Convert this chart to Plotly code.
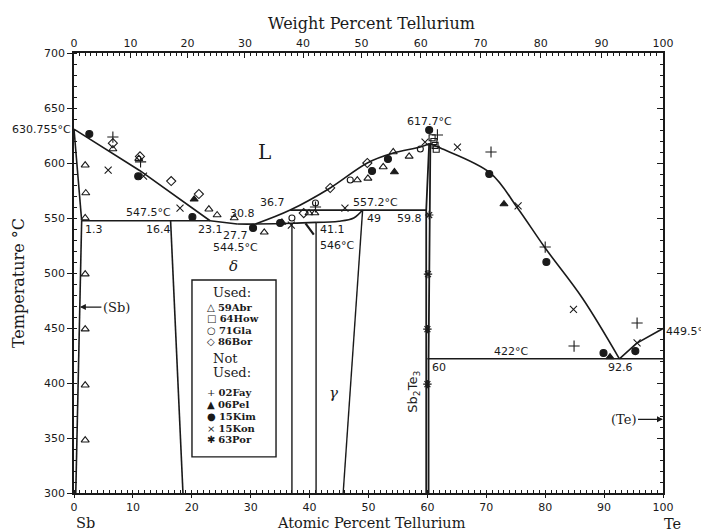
import plotly.graph_objects as go

# ---- invariant points of the Sb-Te system (at.% Te, deg C) ----
T_SB_MELT = 630.755
T_EUT_SB = 547.5
T_EUT_D = 544.5
T_PERI = 557.2
T_546 = 546.0
T_SB2TE3 = 617.7
T_EUT_TE = 422.0
T_TE_MELT = 449.5

X_SB_SOL = 1.3
X_DELTA = 16.4
X_L_EUT = 23.1
X_277 = 27.7
X_308 = 30.8
X_L_PERI = 36.7
X_411 = 41.1
X_G49 = 49.0
X_598 = 59.8
X_60 = 60.0
X_L_TE = 92.6

# ---- phase boundaries ----
liq_sb_x = [0, 11.2, X_L_EUT]
liq_sb_t = [T_SB_MELT, 593, T_EUT_SB]
sol_sb_x = [0, X_SB_SOL]
sol_sb_t = [T_SB_MELT, T_EUT_SB]
solv_sb_x = [X_SB_SOL, 1.0, 0.3]
solv_sb_t = [T_EUT_SB, 470, 300]
eut_sb_x = [X_SB_SOL, X_L_EUT, X_277]
eut_sb_t = [T_EUT_SB, T_EUT_SB, T_EUT_D]
eut_d_x = [X_277, X_308, 37.0, X_411]
eut_d_t = [T_EUT_D, T_EUT_D, 545.2, T_546]
delta_l_x = [X_DELTA, 18.5]
delta_l_t = [T_EUT_SB, 300]
v37_x = [37.0, 37.0]
v37_t = [545.2, 300]
v41_x = [X_411, X_411]
v41_t = [T_546, 300]
gam_top_x = [X_411, 45.0, 47.5, X_G49]
gam_top_t = [T_546, 547, 550, T_PERI]
gam_r_x = [X_G49, 45.7]
gam_r_t = [T_PERI, 300]
peri_x = [X_L_PERI, X_598]
peri_t = [T_PERI, T_PERI]
liq_mid_x = [X_308, X_L_PERI, 43.5, 49.8, 54.2, 58.8, 60.4]
liq_mid_t = [T_EUT_D, T_PERI, 577.3, 600, 609, 614.5, T_SB2TE3]
liq_te_x = [60.4, 62.2, 70.7, 75.3, 80.0, 86.3, X_L_TE]
liq_te_t = [T_SB2TE3, 613.6, 590.9, 559.1, 522.7, 477.3, T_EUT_TE]
liq_end_x = [X_L_TE, 95.5, 100]
liq_end_t = [T_EUT_TE, 436, T_TE_MELT]
eut_te_x = [X_60, 100]
eut_te_t = [T_EUT_TE, T_EUT_TE]
s23_l_x = [60.3, X_598, X_598]
s23_l_t = [T_SB2TE3, T_PERI, 300]
s23_r_x = [60.5, X_60 + 0.2, X_60 + 0.2]
s23_r_t = [T_SB2TE3, T_EUT_TE, 300]

# ---- experimental data ----
abr59_x = [1.9, 2.0, 1.9, 1.9, 1.9, 1.9, 1.9, 6.6, 11.0, 22.9, 24.3, 27.2, 32.3, 35.3,
           40.9, 39.9, 48.1, 49.9, 52.5, 54.2, 56.9]
abr59_t = [598, 572.7, 550, 499, 449, 398, 348, 612.7, 604, 558, 552.7, 550, 537, 546,
           554.5, 554.5, 584.5, 586, 596.4, 610, 606]
how64_x = [60.8, 61.1, 61.3, 61.5]
how64_t = [623, 619.5, 616, 612.5]
gla71_x = [37.0, 41.0, 46.9, 58.8]
gla71_t = [550, 563.6, 584.5, 612.7]
bor86_x = [6.6, 11.2, 16.5, 21.2, 39.0, 43.5, 49.8]
bor86_t = [618, 606, 583.6, 571.8, 554.5, 577.3, 600]
fay02_x = [6.6, 11.3, 41.0, 61.7, 70.8, 80.0, 84.9, 95.6]
fay02_t = [623.6, 601, 560, 625.5, 610, 523.6, 433.6, 454.5]
pel06_x = [20.4, 54.4, 73.0, 91.0]
pel06_t = [567, 591.8, 562.7, 423.6]
kim15_x = [2.6, 10.9, 20.1, 30.4, 35.0, 50.6, 53.3, 60.3, 70.5, 80.2, 89.9, 95.3]
kim15_t = [626.4, 588, 550.9, 541, 545.5, 592.7, 603.6, 630, 590, 510, 427.3, 429]
kon15_x = [5.8, 11.8, 18.0, 36.9, 46.0, 59.6, 65.1, 75.4, 84.8, 95.6]
kon15_t = [593.6, 588, 559, 543.6, 559, 619, 614.5, 561, 467, 436.4]
por63_x = [60.3, 60.1, 60.0, 60.0]
por63_t = [552.7, 499, 449, 399]

# ---- axis ticks ----
t_ticks = [300, 350, 400, 450, 500, 550, 600, 650, 700]
at_ticks = [0, 10, 20, 30, 40, 50, 60, 70, 80, 90, 100]
wt_ticks = [0, 10, 20, 30, 40, 50, 60, 70, 80, 90, 100]
M_SB, M_TE = 121.76, 127.60


def wt_to_at(w):
    if w >= 100:
        return 100.0
    nt = w / M_TE
    ns = (100 - w) / M_SB
    return 100 * nt / (nt + ns)


INK = "#1a1a1a"
SERIF = "DejaVu Serif"
SANS = "DejaVu Sans"

fig = go.Figure()

boundaries = [
    (liq_sb_x, liq_sb_t, 1.6), (sol_sb_x, sol_sb_t, 1.6), (solv_sb_x, solv_sb_t, 1.6),
    (eut_sb_x, eut_sb_t, 1.6), (eut_d_x, eut_d_t, 1.6), (delta_l_x, delta_l_t, 1.6),
    (v37_x, v37_t, 1.4), (v41_x, v41_t, 1.4), (gam_top_x, gam_top_t, 1.6),
    (gam_r_x, gam_r_t, 1.4), (peri_x, peri_t, 1.6), (liq_mid_x, liq_mid_t, 1.6),
    (liq_te_x, liq_te_t, 1.6), (liq_end_x, liq_end_t, 1.6), (eut_te_x, eut_te_t, 1.6),
    (s23_l_x, s23_l_t, 1.8), (s23_r_x, s23_r_t, 1.8),
]
for bx, bt, w in boundaries:
    fig.add_trace(go.Scatter(x=bx, y=bt, mode="lines", line=dict(color=INK, width=w),
                             line_shape="spline" if len(bx) > 3 else "linear",
                             hoverinfo="skip", showlegend=False))

datasets = [
    ("59Abr", abr59_x, abr59_t, "triangle-up-open", 7),
    ("64How", how64_x, how64_t, "square-open", 6),
    ("71Gla", gla71_x, gla71_t, "circle-open", 6),
    ("86Bor", bor86_x, bor86_t, "diamond-open", 7),
    ("02Fay", fay02_x, fay02_t, "cross-thin-open", 8),
    ("06Pel", pel06_x, pel06_t, "triangle-up", 7),
    ("15Kim", kim15_x, kim15_t, "circle", 7),
    ("15Kon", kon15_x, kon15_t, "x-thin-open", 7),
    ("63Por", por63_x, por63_t, "asterisk-open", 7),
]
for name, dx, dt, sym, sz in datasets:
    fig.add_trace(go.Scatter(x=dx, y=dt, mode="markers", name=name,
                             marker=dict(symbol=sym, size=sz, color=INK,
                                         line=dict(color=INK, width=1.1)),
                             showlegend=False))

# helper trace so the top and right axes are drawn
fig.add_trace(go.Scatter(x=[None], y=[None], xaxis="x2", yaxis="y2", showlegend=False))

lbl = dict(family=SANS, size=11, color=INK)
ann = []


def add(text, x, y, xa="center", ya="middle", xs=0, ys=0, font=None, **kw):
    ann.append(dict(text=text, x=x, y=y, xref="x", yref="y", showarrow=False,
                    xanchor=xa, yanchor=ya, xshift=xs, yshift=ys, font=font or lbl, **kw))


add(f"{T_SB_MELT}°C", 0, T_SB_MELT, xa="right", xs=-1)
add(f"{T_SB2TE3}°C", 60.3, T_SB2TE3, ya="bottom", ys=14)
add(f"{T_EUT_SB}°C", 12.6, T_EUT_SB, ya="bottom", ys=0)
add(f"{X_SB_SOL}", X_SB_SOL, T_EUT_SB, xa="left", ya="top", xs=1)
add(f"{X_DELTA}", X_DELTA, T_EUT_SB, xa="right", ya="top", xs=2)
add(f"{X_L_EUT}", X_L_EUT, T_EUT_SB, ya="top", xs=0)
add(f"{X_277}", X_277, T_EUT_D, ya="top", xs=-2, ys=-3)
add(f"{T_EUT_D}°C", X_277, T_EUT_D, ya="top", xs=-2, ys=-15)
add(f"{X_308}", X_308, T_EUT_D, xa="right", ya="bottom", xs=2, ys=2)
add(f"{X_L_PERI}", X_L_PERI, T_PERI, xa="right", ya="bottom", xs=-3, ys=-1)
add(f"{T_PERI}°C", 51.2, T_PERI, ya="bottom", ys=-1)
add(f"{X_G49:g}", X_G49, T_PERI, xa="left", ya="top", xs=2, ys=0)
add(f"{X_598}", X_598, T_PERI, xa="right", ya="top", xs=-2, ys=0)
add(f"{X_411}", X_411, T_546, xa="left", ya="top", xs=2, ys=1)
add(f"{T_546:g}°C", 44.7, T_546, ya="top", ys=-15)
add(f"{T_EUT_TE:g}°C", 74.2, T_EUT_TE, ya="bottom", ys=-1)
add(f"{X_60:g}", X_60, T_EUT_TE, xa="left", ya="top", xs=3, ys=0)
add(f"{X_L_TE}", X_L_TE, T_EUT_TE, ya="top", xs=1, ys=0)
add(f"{T_TE_MELT}°C", 100, T_TE_MELT, xa="left", xs=1, ys=-3)

add("L", 32.4, 610, font=dict(family=SERIF, size=20, color=INK))
add("<i>δ</i>", 27.0, 506, font=dict(family=SERIF, size=15, color=INK))
add("<i>γ</i>", 44.0, 391, font=dict(family=SERIF, size=15, color=INK))
add("Sb<sub>2</sub>Te<sub>3</sub>", 57.7, 392, textangle=-90,
    font=dict(family=SANS, size=13, color=INK))

# phase arrows
ann.append(dict(text="(Sb)", x=1.0, y=469, ax=7.2, ay=469, xref="x", yref="y",
                axref="x", ayref="y", showarrow=True, arrowhead=2, arrowsize=1,
                arrowwidth=1.2, arrowcolor=INK, font=dict(family=SERIF, size=13, color=INK),
                standoff=0))
ann.append(dict(text="(Te)", x=100, y=367, ax=93.3, ay=367, xref="x", yref="y",
                axref="x", ayref="y", showarrow=True, arrowhead=2, arrowsize=1,
                arrowwidth=1.2, arrowcolor=INK, font=dict(family=SERIF, size=13, color=INK),
                standoff=0))
ann.append(dict(text="", x=39.3, y=545.2, ax=40.9, ay=533.5, xref="x", yref="y",
                axref="x", ayref="y", showarrow=True, arrowhead=0, arrowwidth=2.2,
                arrowcolor=INK))

# axis titles
ttl = dict(family=SERIF, size=16, color=INK)
ttl_low = dict(family=SERIF, size=14.5, color=INK)
ann.append(dict(text="Weight Percent Tellurium", x=0.5, y=1.0, xref="paper", yref="paper",
                xanchor="center", yanchor="middle", yshift=30, xshift=3, showarrow=False,
                font=ttl))
ann.append(dict(text="Atomic Percent Tellurium", x=0.5, y=0, xref="paper", yref="paper",
                xanchor="center", yanchor="middle", yshift=-30, xshift=3, showarrow=False,
                font=ttl_low))
ann.append(dict(text="Temperature °C", x=0, y=0.477, xref="paper", yref="paper",
                xanchor="center", yanchor="middle", xshift=-56, textangle=-90,
                showarrow=False, font=ttl))
ann.append(dict(text="Sb", x=0, y=0, xref="paper", yref="paper", xanchor="center",
                yanchor="middle", xshift=11, yshift=-30, showarrow=False, font=ttl_low))
ann.append(dict(text="Te", x=1, y=0, xref="paper", yref="paper", xanchor="center",
                yanchor="middle", xshift=9, yshift=-31, showarrow=False, font=ttl_low))

# key box
KX0, KX1, KY0, KY1 = 0.2003, 0.343, 0.082, 0.484
shapes = [dict(type="rect", xref="paper", yref="paper", x0=KX0, x1=KX1, y0=KY0, y1=KY1,
               line=dict(color=INK, width=1.4), fillcolor="white", layer="above")]

key_font = dict(family=SERIF, size=10, color=INK)
head_font = dict(family=SERIF, size=13, color=INK)
key_rows = [
    ("Used:", 292, head_font, 0.232),
    ("△ <b>59Abr</b>", 307, key_font, 0.222),
    ("□ <b>64How</b>", 318.5, key_font, 0.222),
    ("○ <b>71Gla</b>", 330, key_font, 0.222),
    ("◇ <b>86Bor</b>", 341.5, key_font, 0.222),
    ("Not", 358, head_font, 0.232),
    ("Used:", 372, head_font, 0.232),
    ("+ <b>02Fay</b>", 392, key_font, 0.222),
    ("▲ <b>06Pel</b>", 404, key_font, 0.222),
    ("● <b>15Kim</b>", 416, key_font, 0.222),
    ("× <b>15Kon</b>", 428, key_font, 0.222),
    ("✱ <b>63Por</b>", 439.5, key_font, 0.222),
]
for text, py, f, px in key_rows:
    ann.append(dict(text=text, x=px, y=(493 - py) / 440, xref="paper", yref="paper",
                    xanchor="left", yanchor="middle", showarrow=False, font=f))

tickfont = dict(family=SANS, size=11, color=INK)
wt_pos = [wt_to_at(w) for w in wt_ticks]
wt_minor = [wt_to_at(w) for w in range(0, 101) if w % 10 != 0]

fig.update_layout(
    width=701, height=532,
    margin=dict(l=74, r=38, t=53, b=39),
    paper_bgcolor="white", plot_bgcolor="white",
    showlegend=False,
    annotations=ann, shapes=shapes,
    xaxis=dict(range=[0, 100], tickvals=at_ticks, ticks="outside", ticklen=3,
               tickwidth=1.2, tickcolor=INK, showline=True, linecolor=INK, linewidth=1.6,
               showgrid=False, zeroline=False, tickfont=tickfont,
               minor=dict(dtick=1, ticks="inside", ticklen=3, tickcolor=INK, tickwidth=1)),
    xaxis2=dict(range=[0, 100], overlaying="x", side="top", tickvals=wt_pos,
                ticktext=[str(w) for w in wt_ticks], ticks="inside", ticklen=5,
                tickwidth=1.2, tickcolor=INK, showline=True, linecolor=INK,
                linewidth=1.6, showgrid=False, zeroline=False, tickfont=tickfont,
                minor=dict(tickvals=wt_minor, ticks="inside", ticklen=3,
                           tickcolor=INK, tickwidth=1)),
    yaxis=dict(range=[300, 700], tickvals=t_ticks, ticks="outside", ticklen=5,
               tickwidth=1.2, tickcolor=INK, showline=True, linecolor=INK, linewidth=1.6,
               showgrid=False, zeroline=False, tickfont=tickfont,
               minor=dict(dtick=10, ticks="inside", ticklen=3, tickcolor=INK, tickwidth=1)),
    yaxis2=dict(range=[300, 700], overlaying="y", side="right", tickvals=t_ticks,
                showticklabels=False, ticks="inside", ticklen=6, tickwidth=1.2,
                tickcolor=INK, showline=True, linecolor=INK, linewidth=1.6,
                showgrid=False, zeroline=False,
                minor=dict(dtick=10, ticks="inside", ticklen=3, tickcolor=INK, tickwidth=1)),
)

fig.write_html("out.html")
